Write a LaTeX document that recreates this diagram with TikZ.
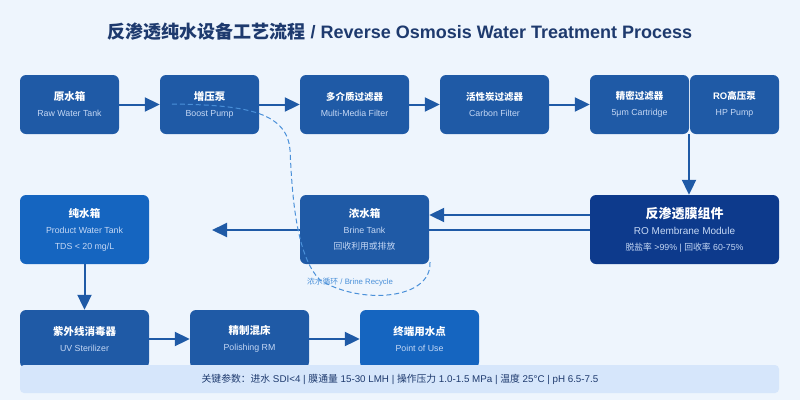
\documentclass[tikz,border=0pt]{standalone}
\usepackage{fontspec}
\setmainfont{Liberation Sans}
\newfontfamily\cjk{Noto Sans CJK SC}
\usetikzlibrary{calc}
\usetikzlibrary{positioning}
\usetikzlibrary{arrows.meta}
\definecolor{bgBlue}{HTML}{EEF5FD}
\definecolor{boxBlue}{HTML}{1F5AA6}
\definecolor{darkBlue}{HTML}{0D3A8C}
\definecolor{lightBlue}{HTML}{1565C0}
\definecolor{subText}{HTML}{C5D8F5}
\definecolor{titleBlue}{HTML}{1E3A6E}
\definecolor{barBlue}{HTML}{D6E6FB}
\definecolor{dashBlue}{HTML}{4A90D9}
\tikzset{
  stepNode/.style={%
    rectangle, rounded corners=6pt, fill=boxBlue, text=white,
    align=center, inner sep=0pt, font=\fontsize{10.5}{16}\selectfont,
  },
  flowArrow/.style={%
    draw=boxBlue, line width=2pt, -{Triangle[length=15pt,width=14pt]},
  }
}
\newcommand{\subline}[1]{{\color{subText}\fontsize{8.8}{15}\selectfont #1}}
\newcommand{\zh}[1]{{\cjk #1}}

\begin{document}
\begin{tikzpicture}[x=1pt,y=-1pt]

          \fill[bgBlue] (0,0) rectangle (800,400);
          \node[text=titleBlue,font=\bfseries\fontsize{18}{22}\selectfont] (title) at (400,32)
            {\zh{反渗透纯水设备工艺流程} / Reverse Osmosis Water Treatment Process};

          \node[stepNode,minimum width=99pt,minimum height=59pt] (rawTank) at (69.5,104.5) {\textbf{\zh{原水箱}}\\\subline{Raw Water Tank}} ;
          \node[stepNode,minimum width=99pt,minimum height=59pt] (boostPump) at (209.5,104.5) {\textbf{\zh{增压泵}}\\\subline{Boost Pump}} ;
          \node[stepNode,minimum width=109pt,minimum height=59pt] (mediaFilter) at (354.5,104.5) {\textbf{\fontsize{9.5}{16}\selectfont\zh{多介质过滤器}}\\\subline{Multi-Media Filter}} ;
          \node[stepNode,minimum width=109pt,minimum height=59pt] (carbonFilter) at (494.5,104.5) {\textbf{\fontsize{9.5}{16}\selectfont\zh{活性炭过滤器}}\\\subline{Carbon Filter}} ;
          \node[stepNode,minimum width=99pt,minimum height=59pt] (cartFilter) at (639.5,104.5) {\textbf{\fontsize{9.5}{16}\selectfont\zh{精密过滤器}}\\\subline{5μm Cartridge}} ;
          \node[stepNode,minimum width=89pt,minimum height=59pt] (hpPump) at (734.5,104.5) {\textbf{\fontsize{9.5}{16}\selectfont RO\zh{高压泵}}\\\subline{HP Pump}} ;

          \node[stepNode,minimum width=129pt,minimum height=69pt,fill=lightBlue] (pureTank) at (84.5,229.5) {\textbf{\zh{纯水箱}}\\\subline{Product Water Tank}\\\subline{TDS < 20 mg/L}} ;

          \draw[flowArrow] (590,230) -- (212,230);

          \node[stepNode,minimum width=129pt,minimum height=69pt] (brineTank) at (364.5,229.5) {\textbf{\zh{浓水箱}}\\\subline{Brine Tank}\\\subline{\zh{回收利用或排放}}} ;
          \node[stepNode,minimum width=189pt,minimum height=69pt,fill=darkBlue] (roModule) at (684.5,229.5) {\textbf{\fontsize{13}{16}\selectfont\zh{反渗透膜组件}}\\{\color{subText}\fontsize{10}{16}\selectfont RO Membrane Module}\\\subline{\zh{脱盐率} >99\% | \zh{回收率} 60-75\%}} ;

          \node[stepNode,minimum width=129pt,minimum height=58pt] (uvSter) at (84.5,339) {\textbf{\zh{紫外线消毒器}}\\\subline{UV Sterilizer}} ;
          \node[stepNode,minimum width=119pt,minimum height=58pt] (polishRM) at (249.5,339) {\textbf{\zh{精制混床}}\\\subline{Polishing RM}} ;
          \node[stepNode,minimum width=119pt,minimum height=58pt,fill=lightBlue] (useNode) at (419.5,339) {\textbf{\zh{终端用水点}}\\\subline{Point of Use}} ;

          % brine recycle loop
          \draw[dashBlue,line width=1pt,dash pattern=on 5pt off 3pt]
            (430,262) .. controls (432,300) and (360,305) .. (320,280)
            .. controls (295,255) and (292,190) .. (290,150)
            .. controls (287,110) and (240,105) .. (172,104);
          \node[text=dashBlue,font=\fontsize{7.8}{9}\selectfont] (recycleLabel) at (350,282) {\zh{浓水循环} / Brine Recycle} ;

          \fill[barBlue,rounded corners=4pt] (20,365) rectangle (779,393);
          \node[text=titleBlue,font=\fontsize{9.8}{11}\selectfont] (keyParams) at (400,379)
            {\zh{关键参数：进水} SDI<4 | \zh{膜通量} 15-30 LMH | \zh{操作压力} 1.0-1.5 MPa | \zh{温度} 25°C | pH 6.5-7.5} ;

          \draw[flowArrow] (rawTank) -- (boostPump);
          \draw[flowArrow] (boostPump) -- (mediaFilter);
          \draw[flowArrow] (mediaFilter) -- (carbonFilter);
          \draw[flowArrow] (carbonFilter) -- (cartFilter);
          \draw[flowArrow] (hpPump.south -| 689,0) -- (roModule.north -| 689,0);
          \draw[flowArrow] (roModule.west |- 0,215) -- (brineTank.east |- 0,215);
          \draw[flowArrow] (pureTank.south) -- (uvSter.north);
          \draw[flowArrow] (uvSter) -- (polishRM);
          \draw[flowArrow] (polishRM) -- (useNode);

\end{tikzpicture}
\end{document}
